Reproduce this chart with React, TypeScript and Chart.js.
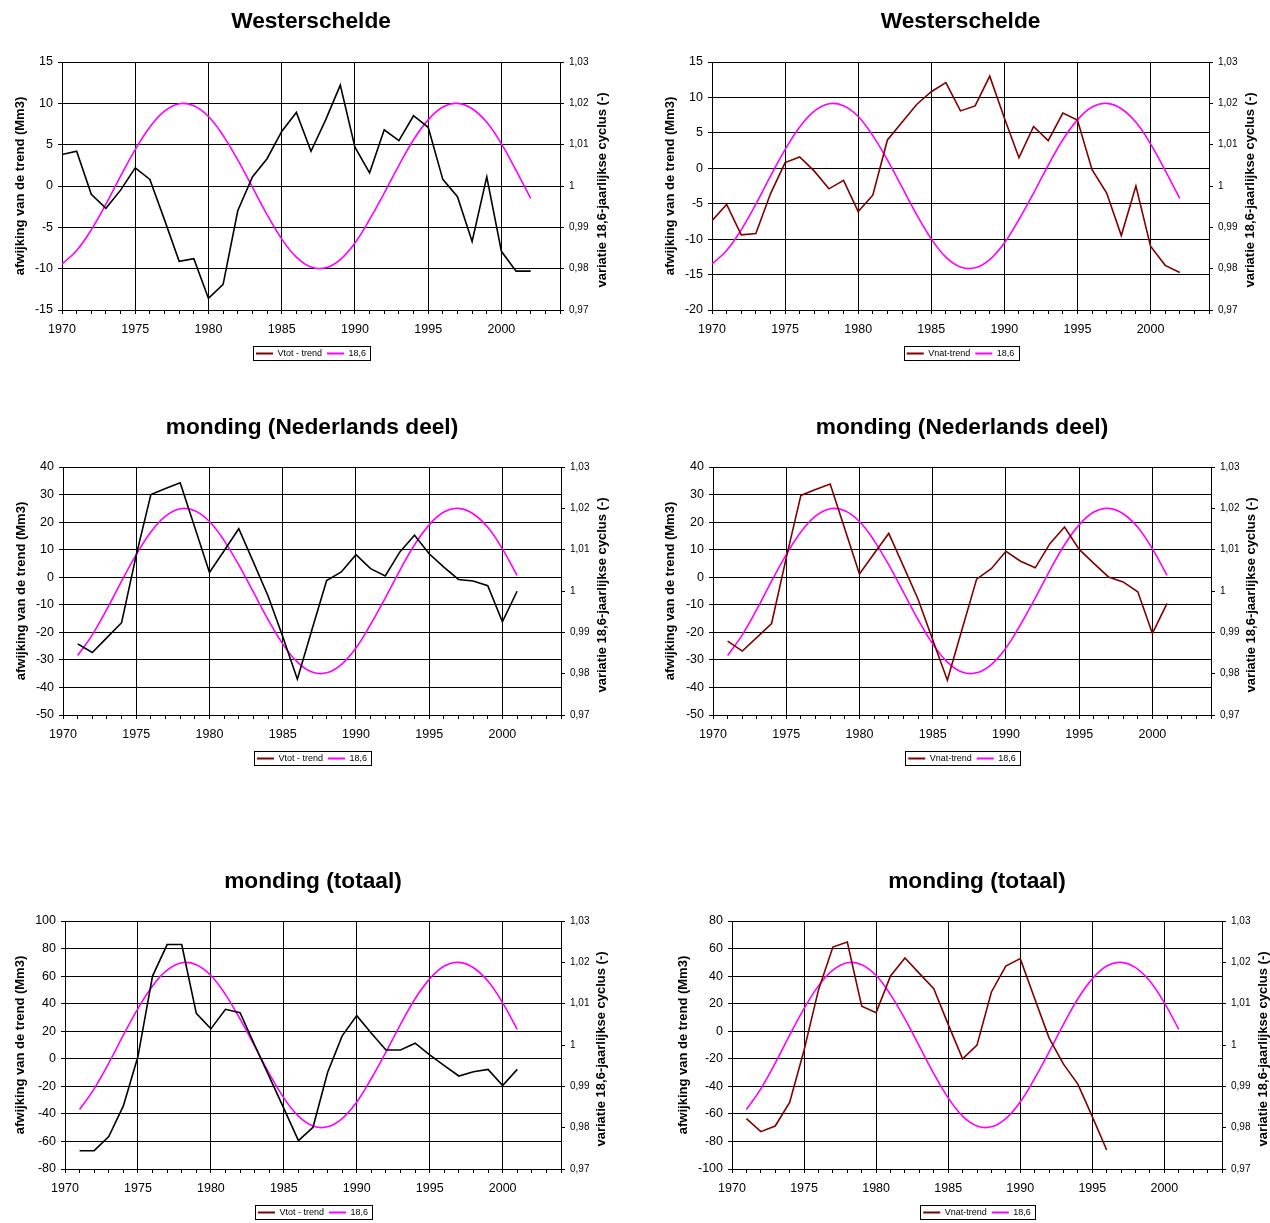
import React, { useEffect, useRef } from "react";
import { Chart, registerables } from "chart.js";

Chart.register(...registerables);

const FONT = "'Liberation Sans', Arial, Helvetica, sans-serif";

// ---- categories (years) ----
const yearsWide = [1970, 1971, 1972, 1973, 1974, 1975, 1976, 1977, 1978, 1979, 1980, 1981, 1982, 1983, 1984, 1985, 1986, 1987, 1988, 1989, 1990, 1991, 1992, 1993, 1994, 1995, 1996, 1997, 1998, 1999, 2000, 2001, 2002];
const yearsMid = [1971, 1972, 1973, 1974, 1975, 1976, 1977, 1978, 1979, 1980, 1981, 1982, 1983, 1984, 1985, 1986, 1987, 1988, 1989, 1990, 1991, 1992, 1993, 1994, 1995, 1996, 1997, 1998, 1999, 2000, 2001];
const yearsTotNat = [1971, 1972, 1973, 1974, 1975, 1976, 1977, 1978, 1979, 1980, 1981, 1982, 1983, 1984, 1985, 1986, 1987, 1988, 1989, 1990, 1991, 1992, 1993, 1994, 1995, 1996];

// ---- 18,6-year cycle (one value per year 1970-2002) ----
const cycle186 = [0.9811, 0.9844, 0.9894, 0.9956, 1.0024, 1.0088, 1.0143, 1.0181, 1.0199, 1.0194, 1.0168, 1.0122, 1.0063, 0.9997, 0.9931, 0.9872, 0.9828, 0.9804, 0.9802, 0.9822, 0.9862, 0.9919, 0.9983, 1.005, 1.0112, 1.016, 1.0191, 1.02, 1.0187, 1.0154, 1.0102, 1.0038, 0.997];

// ---- series ----
const wsVtot = [3.8, 4.2, -1.0, -2.7, -0.5, 2.2, 0.8, -4.1, -9.1, -8.8, -13.6, -11.9, -3.0, 1.1, 3.3, 6.6, 8.9, 4.2, 8.0, 12.2, 4.7, 1.6, 6.8, 5.5, 8.5, 7.1, 0.8, -1.3, -6.7, 1.1, -7.9, -10.3, -10.3];
const wsVnat = [-7.4, -5.1, -9.4, -9.2, -3.6, 0.8, 1.6, -0.4, -2.9, -1.7, -6.1, -3.8, 4.0, 6.5, 9.0, 10.8, 12.1, 8.1, 8.8, 13.0, 7.1, 1.5, 5.9, 3.9, 7.8, 6.8, -0.2, -3.5, -9.5, -2.5, -11.0, -13.7, -14.7];
const ndVtot = [-24.2, -27.3, -21.9, -16.5, 8.0, 30.0, 32.2, 34.3, 18.0, 1.7, 9.6, 17.6, 5.5, -6.8, -21.5, -37.0, -19.0, -1.2, 1.9, 8.2, 3.1, 0.5, 9.2, 15.2, 8.5, 3.7, -0.8, -1.4, -3.1, -16.2, -5.1];
const ndVnat = [-23.2, -26.8, -21.8, -16.8, 7.0, 29.7, 31.8, 33.8, 17.5, 1.2, 8.6, 15.9, 4.0, -8.0, -22.7, -37.4, -19.0, -0.7, 3.1, 9.4, 5.8, 3.4, 12.2, 18.2, 10.1, 5.0, 0.1, -1.7, -5.3, -20.4, -9.5];
const totVtot = [-66.7, -66.7, -56.5, -34.2, 1.6, 60.0, 82.9, 82.9, 33.0, 21.7, 35.9, 33.5, 10.0, -13.0, -36.0, -59.4, -49.7, -10.0, 16.6, 31.3, 18.5, 6.4, 6.4, 11.3, 2.8, -5.0, -12.5, -9.4, -7.7, -19.5, -7.7];
const totVnat = [-63.5, -72.9, -68.8, -51.7, -13.8, 30.0, 61.1, 64.7, 18.1, 13.5, 40.1, 53.1, 42.0, 30.9, 5.0, -20.0, -10.1, 28.5, 47.3, 52.7, 23.7, -4.8, -23.9, -38.4, -62.0, -86.2];

// ---- tick labels / texts ----
const xTickLabels = ["1970", "1975", "1980", "1985", "1990", "1995", "2000"];
const leftAxisTitle = "afwijking van de trend (Mm3)";
const rightAxisTitle = "variatie 18,6-jaarlijkse cyclus (-)";
const cycleLabel = "18,6";

function cycleFor(years: number[]) {
  return years.map((y) => cycle186[yearsWide.indexOf(y)]);
}

type Spec = {
  id: string;
  title: string;
  seriesLabel: string;
  seriesColor: string;
  years: number[];
  values: number[];
  cycleYears: number[];
  yMin: number;
  yMax: number;
  yStep: number;
  box: { left: number; top: number; width: number; height: number };
  plot: { l: number; r: number; t: number; b: number };
  titleY: number;
  leftTitleX: number;
  rightTitleX: number;
};

const specs: Spec[] = [
  {
    id: "c1", title: "Westerschelde", seriesLabel: "Vtot - trend", seriesColor: "#000000",
    years: yearsWide, values: wsVtot, cycleYears: yearsWide, yMin: -15, yMax: 15, yStep: 5,
    box: { left: 0, top: 0, width: 635, height: 380 }, plot: { l: 62, r: 560, t: 62, b: 310 },
    titleY: 22, leftTitleX: 20, rightTitleX: 602,
  },
  {
    id: "c2", title: "Westerschelde", seriesLabel: "Vnat-trend", seriesColor: "#800000",
    years: yearsWide, values: wsVnat, cycleYears: yearsWide, yMin: -20, yMax: 15, yStep: 5,
    box: { left: 650, top: 0, width: 620, height: 380 }, plot: { l: 712, r: 1209, t: 62, b: 310 },
    titleY: 22, leftTitleX: 670, rightTitleX: 1250,
  },
  {
    id: "c3", title: "monding (Nederlands deel)", seriesLabel: "Vtot - trend", seriesColor: "#000000",
    years: yearsMid, values: ndVtot, cycleYears: yearsMid, yMin: -50, yMax: 40, yStep: 10,
    box: { left: 0, top: 400, width: 635, height: 390 }, plot: { l: 63, r: 561, t: 467, b: 715 },
    titleY: 428, leftTitleX: 21, rightTitleX: 602,
  },
  {
    id: "c4", title: "monding (Nederlands deel)", seriesLabel: "Vnat-trend", seriesColor: "#800000",
    years: yearsMid, values: ndVnat, cycleYears: yearsMid, yMin: -50, yMax: 40, yStep: 10,
    box: { left: 650, top: 400, width: 620, height: 390 }, plot: { l: 713, r: 1211, t: 467, b: 715 },
    titleY: 428, leftTitleX: 670, rightTitleX: 1251,
  },
  {
    id: "c5", title: "monding (totaal)", seriesLabel: "Vtot - trend", seriesColor: "#000000",
    years: yearsMid, values: totVtot, cycleYears: yearsMid, yMin: -80, yMax: 100, yStep: 20,
    box: { left: 0, top: 850, width: 635, height: 380 }, plot: { l: 65, r: 561, t: 921, b: 1169 },
    titleY: 882, leftTitleX: 20, rightTitleX: 601,
  },
  {
    id: "c6", title: "monding (totaal)", seriesLabel: "Vnat-trend", seriesColor: "#800000",
    years: yearsTotNat, values: totVnat, cycleYears: yearsMid, yMin: -100, yMax: 80, yStep: 20,
    box: { left: 650, top: 850, width: 620, height: 380 }, plot: { l: 732, r: 1222, t: 921, b: 1169 },
    titleY: 882, leftTitleX: 683, rightTitleX: 1263,
  },
];

const TITLE_SIZE = 22.7;
const AXIS_TITLE_SIZE = 13;
const LEGEND_SIZE = 9;
const LEGEND_PAD = 5;
const X_AXIS_H = 34;

const rightTitlePlugin = {
  id: "rightTitle",
  afterDraw(chart: any, _args: any, opts: any) {
    const { ctx, chartArea } = chart;
    ctx.save();
    ctx.translate(opts.x, (chartArea.top + chartArea.bottom) / 2 + (opts.dy || 0));
    ctx.rotate(-Math.PI / 2);
    ctx.font = `bold ${AXIS_TITLE_SIZE}px ${FONT}`;
    ctx.fillStyle = "#000";
    ctx.textAlign = "center";
    ctx.textBaseline = "middle";
    ctx.fillText(rightAxisTitle, 0, 0);
    ctx.restore();
  },
};

const legendBoxPlugin = {
  id: "legendBox",
  afterDraw(chart: any) {
    const lg = chart.legend;
    if (!lg || !lg.lineWidths) return;
    const p = lg.options.labels.padding;
    const w = lg.lineWidths[0];
    const x0 = (lg.left + p + lg.right - w) / 2;
    const x1 = x0 + w - p;
    const y0 = lg.top + p;
    const ctx = chart.ctx;
    ctx.save();
    ctx.strokeStyle = "#000";
    ctx.lineWidth = 1;
    const left = Math.round(x0 - 3) + 0.5;
    const top = Math.round(y0 - 3) + 0.5;
    const width = Math.round(x1 - x0 + 7);
    ctx.strokeRect(left, top, width, LEGEND_SIZE + 5);
    ctx.restore();
  },
};

function fmtRight(v: any) {
  const n = Math.round(Number(v) * 100) / 100;
  return String(n).replace(".", ",");
}

function buildConfig(s: Spec): any {
  const relL = s.plot.l - s.box.left;
  const relR = s.plot.r - s.box.left;
  const relT = s.plot.t - s.box.top;
  const relB = s.plot.b - s.box.top;
  const leftW = relL;
  const rightW = s.box.width - relR;
  const titleLH = TITLE_SIZE * 1.2;
  const titlePT = s.titleY - s.box.top - titleLH / 2;
  const titlePB = relT - titlePT - titleLH;
  const legendH = LEGEND_SIZE + LEGEND_PAD + 10;
  const padBottom = s.box.height - relB - X_AXIS_H - legendH;
  const leftTitlePad = s.leftTitleX - s.box.left - (AXIS_TITLE_SIZE * 1.2) / 2;

  const cycleVals = cycleFor(s.cycleYears);

  return {
    type: "line",
    data: {
      datasets: [
        {
          label: s.seriesLabel,
          data: s.years.map((y, i) => ({ x: y, y: s.values[i] })),
          borderColor: s.seriesColor,
          backgroundColor: s.seriesColor,
          borderWidth: 1.6,
          pointRadius: 0,
          tension: 0,
          yAxisID: "y",
        },
        {
          label: cycleLabel,
          data: s.cycleYears.map((y, i) => ({ x: y, y: cycleVals[i] })),
          borderColor: "#FF00FF",
          backgroundColor: "#FF00FF",
          borderWidth: 1.6,
          pointRadius: 0,
          tension: 0.4,
          yAxisID: "y1",
        },
      ],
    },
    options: {
      animation: false,
      responsive: false,
      maintainAspectRatio: false,
      events: [],
      layout: { padding: { left: 0, right: 0, top: 0, bottom: padBottom } },
      plugins: {
        title: {
          display: true,
          text: s.title,
          fullSize: false,
          color: "#000",
          font: { family: FONT, size: TITLE_SIZE, weight: "bold", lineHeight: 1.2 },
          padding: { top: titlePT, bottom: titlePB },
        },
        legend: {
          display: true,
          position: "bottom",
          fullSize: false,
          labels: {
            usePointStyle: true,
            pointStyle: "line",
            pointStyleWidth: 17,
            padding: LEGEND_PAD,
            color: "#000",
            font: { family: FONT, size: LEGEND_SIZE },
            generateLabels: (chart: any) => {
              const items = (Chart as any).defaults.plugins.legend.labels.generateLabels(chart);
              return items.map((it: any, i: number) => ({
                ...it,
                pointStyle: "line",
                strokeStyle: i === 0 ? "#800000" : "#FF00FF",
                lineWidth: 2,
              }));
            },
          },
        },
        tooltip: { enabled: false },
        rightTitle: { x: s.rightTitleX - s.box.left, dy: 4 },
      },
      scales: {
        x: {
          type: "linear",
          min: 1970,
          max: 2004,
          afterFit: (sc: any) => {
            sc.height = X_AXIS_H;
          },
          ticks: {
            stepSize: 1,
            autoSkip: false,
            maxRotation: 0,
            minRotation: 0,
            color: "#000",
            font: { family: FONT, size: 12.5 },
            padding: 8,
            callback: (v: any) => (xTickLabels.includes(String(v)) ? String(v) : ""),
          },
          grid: {
            color: (ctx: any) => {
              const v = ctx.tick ? ctx.tick.value : 0;
              return v % 5 === 0 && v > 1970 && v < 2004 ? "#000" : "rgba(0,0,0,0)";
            },
            tickColor: "#000",
            tickLength: 4,
            lineWidth: 1,
          },
          border: { display: true, color: "#000", width: 1 },
        },
        y: {
          position: "left",
          min: s.yMin,
          max: s.yMax,
          afterFit: (sc: any) => {
            sc.width = leftW;
          },
          ticks: {
            stepSize: s.yStep,
            color: "#000",
            font: { family: FONT, size: 12.5 },
            padding: 5,
          },
          grid: { color: "#000", tickColor: "#000", tickLength: 4, lineWidth: 1 },
          border: { display: true, color: "#000", width: 1 },
          title: {
            display: true,
            text: leftAxisTitle,
            color: "#000",
            font: { family: FONT, size: AXIS_TITLE_SIZE, weight: "bold", lineHeight: 1.2 },
            padding: { top: leftTitlePad, bottom: 0 },
          },
        },
        y1: {
          position: "right",
          min: 0.97,
          max: 1.03,
          afterFit: (sc: any) => {
            sc.width = rightW;
          },
          ticks: {
            stepSize: 0.01,
            color: "#000",
            font: { family: FONT, size: 10 },
            padding: 5,
            callback: (v: any) => fmtRight(v),
          },
          grid: { drawOnChartArea: false, color: "#000", tickColor: "#000", tickLength: 4 },
          border: { display: true, color: "#000", width: 1 },
        },
      },
    },
    plugins: [rightTitlePlugin, legendBoxPlugin],
  };
}

function Panel({ spec }: { spec: Spec }) {
  const ref = useRef<HTMLCanvasElement | null>(null);
  useEffect(() => {
    if (!ref.current) return;
    const chart = new Chart(ref.current, buildConfig(spec));
    return () => {
      chart.destroy();
    };
  }, [spec]);
  return (
    <div
      style={{
        position: "absolute",
        left: spec.box.left,
        top: spec.box.top,
        width: spec.box.width,
        height: spec.box.height,
      }}
    >
      <canvas
        ref={ref}
        width={spec.box.width}
        height={spec.box.height}
        style={{ display: "block", width: spec.box.width, height: spec.box.height }}
      />
    </div>
  );
}

export default function App() {
  return (
    <div
      style={{
        position: "absolute",
        left: 0,
        top: 0,
        width: 1270,
        height: 1223,
        overflow: "hidden",
        background: "#ffffff",
      }}
    >
      {specs.map((s) => (
        <Panel key={s.id} spec={s} />
      ))}
    </div>
  );
}
